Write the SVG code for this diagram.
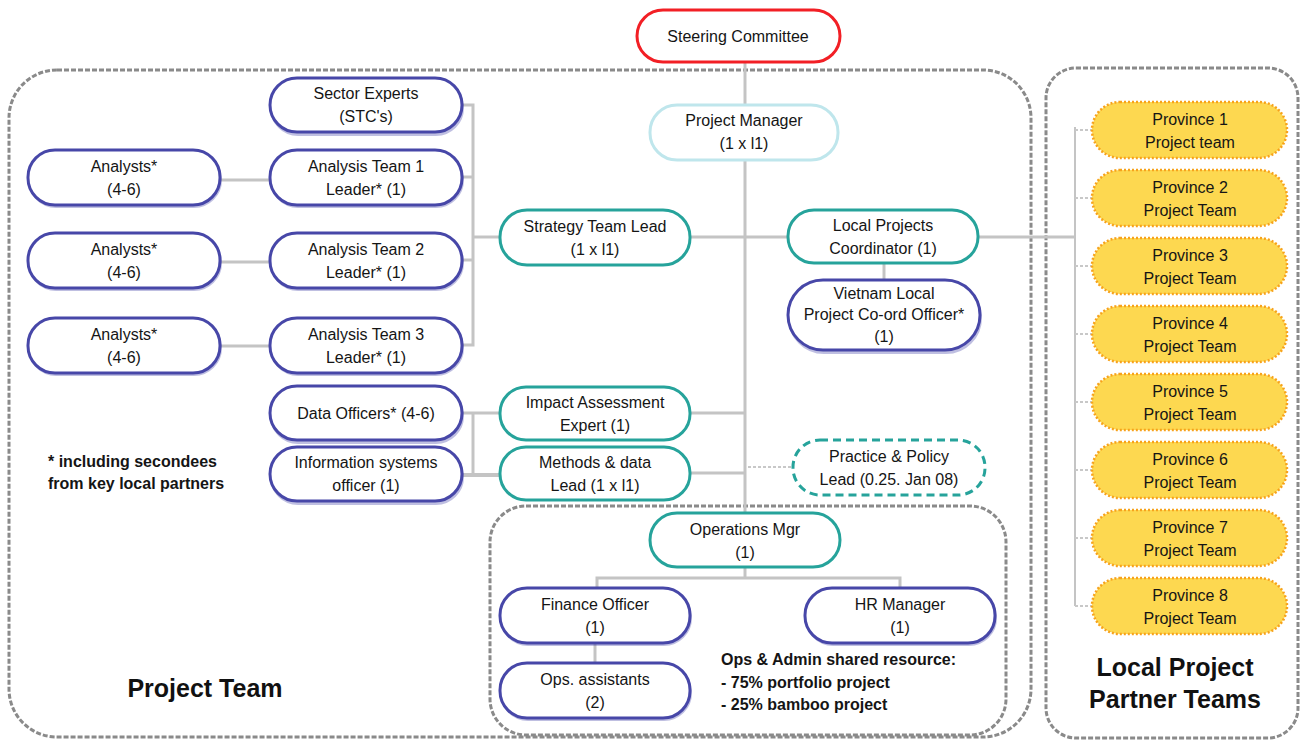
<svg xmlns="http://www.w3.org/2000/svg" width="1301" height="742" viewBox="0 0 1301 742">
  <defs>
    <style>
      .t { font-family: "Liberation Sans", Arial, sans-serif; font-size: 16px; fill: #151515; text-anchor: middle; }
      .tl { font-family: "Liberation Sans", Arial, sans-serif; font-size: 16px; fill: #151515; font-weight: bold; }
      .big { font-family: "Liberation Sans", Arial, sans-serif; font-size: 25px; font-weight: bold; fill: #111; text-anchor: middle; }
      .node { fill: #fff; stroke-width: 3; }
      .shadow { fill: none; stroke-width: 4; opacity: 0.35; }
      .blue { stroke: #4747a8; }
      .teal { stroke: #26a39b; }
      .cyan { stroke: #bfe6ec; }
      .red { stroke: #f21f25; }
      .prov { fill: #fdd850; stroke: #f7a21b; stroke-width: 2.5; stroke-dasharray: 2 2; }
      .frame { fill: none; stroke: #8a8a8a; stroke-width: 3; stroke-dasharray: 5 2; }
      .ln { fill: none; stroke: #c4c4c4; stroke-width: 3; }
      .thin { fill: none; stroke: #c8c8c8; stroke-width: 2; stroke-dasharray: 3 2; }
    </style>
  </defs>

  <!-- team frames -->
  <g id="frames">
    <rect class="frame" x="9" y="70" width="1022" height="667" rx="48"/>
    <rect class="frame" x="1046" y="68" width="252" height="670" rx="30"/>
    <rect class="frame" x="490" y="506" width="516" height="229" rx="36"/>
  </g>

  <!-- reporting lines -->
  <g id="connectors">
    <line class="ln" x1="745" y1="62" x2="745" y2="105"/>
    <line class="ln" x1="745" y1="160" x2="745" y2="513"/>
    <line class="ln" x1="690" y1="237" x2="788" y2="237"/>
    <line class="ln" x1="473" y1="237" x2="500" y2="237"/>
    <polyline class="ln" points="462,105 473,105 473,345 462,345"/>
    <line class="ln" x1="462" y1="177" x2="473" y2="177"/>
    <line class="ln" x1="462" y1="260" x2="473" y2="260"/>
    <line class="ln" x1="220" y1="180" x2="270" y2="180"/>
    <line class="ln" x1="220" y1="262" x2="270" y2="262"/>
    <line class="ln" x1="220" y1="346" x2="270" y2="346"/>
    <line class="ln" x1="884" y1="263" x2="884" y2="280"/>
    <line class="ln" x1="978" y1="237" x2="1075" y2="237"/>
    <line class="ln" x1="1075" y1="127" x2="1075" y2="606" style="stroke-width:2"/>
    <line class="thin" x1="1075" y1="130" x2="1092" y2="130"/>
    <line class="thin" x1="1075" y1="198" x2="1092" y2="198"/>
    <line class="thin" x1="1075" y1="266" x2="1092" y2="266"/>
    <line class="thin" x1="1075" y1="334" x2="1092" y2="334"/>
    <line class="thin" x1="1075" y1="402" x2="1092" y2="402"/>
    <line class="thin" x1="1075" y1="470" x2="1092" y2="470"/>
    <line class="thin" x1="1075" y1="538" x2="1092" y2="538"/>
    <line class="thin" x1="1075" y1="606" x2="1092" y2="606"/>
    <line class="ln" x1="690" y1="413" x2="745" y2="413"/>
    <line class="ln" x1="690" y1="473" x2="745" y2="473"/>
    <line class="thin" x1="748" y1="467" x2="792" y2="467"/>
    <line class="ln" x1="462" y1="413" x2="500" y2="413"/>
    <line class="ln" x1="462" y1="475" x2="500" y2="475" style="stroke-width:4"/>
    <line class="ln" x1="473" y1="413" x2="473" y2="475"/>
    <line class="ln" x1="745" y1="567" x2="745" y2="578"/>
    <polyline class="ln" points="597,588 597,578 900,578 900,588"/>
    <line class="ln" x1="595" y1="643" x2="595" y2="663"/>
  </g>

  <g id="steering-committee">
    <rect class="node red" x="637" y="10" width="203" height="52" rx="26"/>
    <text class="t" x="738" y="42">Steering Committee</text>
  </g>

  <g id="project-manager">
    <rect class="node cyan" x="650" y="105" width="188" height="55" rx="27"/>
    <text class="t" x="744" y="126">Project Manager</text>
    <text class="t" x="744" y="149">(1 x l1)</text>
  </g>

  <g id="sector-experts">
    <rect class="shadow blue" x="272" y="81" width="190" height="53" rx="26"/>
    <rect class="node blue" x="270" y="78" width="192" height="54" rx="27"/>
    <text class="t" x="366" y="99">Sector Experts</text>
    <text class="t" x="366" y="122">(STC's)</text>
  </g>

  <g id="analysis-team-1">
    <rect class="shadow blue" x="272" y="153" width="190" height="53" rx="26"/>
    <rect class="node blue" x="270" y="150" width="192" height="55" rx="27"/>
    <text class="t" x="366" y="172">Analysis Team 1</text>
    <text class="t" x="366" y="195">Leader* (1)</text>
  </g>

  <g id="analysis-team-2">
    <rect class="shadow blue" x="272" y="236" width="190" height="53" rx="26"/>
    <rect class="node blue" x="270" y="233" width="192" height="55" rx="27"/>
    <text class="t" x="366" y="255">Analysis Team 2</text>
    <text class="t" x="366" y="278">Leader*  (1)</text>
  </g>

  <g id="analysis-team-3">
    <rect class="shadow blue" x="272" y="321" width="190" height="53" rx="26"/>
    <rect class="node blue" x="270" y="318" width="192" height="55" rx="27"/>
    <text class="t" x="366" y="340">Analysis Team  3</text>
    <text class="t" x="366" y="363">Leader* (1)</text>
  </g>

  <g id="analysts-1">
    <rect class="shadow blue" x="30" y="153" width="190" height="53" rx="26"/>
    <rect class="node blue" x="28" y="150" width="192" height="55" rx="27"/>
    <text class="t" x="124" y="172">Analysts*</text>
    <text class="t" x="124" y="195">(4-6)</text>
  </g>

  <g id="analysts-2">
    <rect class="shadow blue" x="30" y="236" width="190" height="53" rx="26"/>
    <rect class="node blue" x="28" y="233" width="192" height="55" rx="27"/>
    <text class="t" x="124" y="255">Analysts*</text>
    <text class="t" x="124" y="278">(4-6)</text>
  </g>

  <g id="analysts-3">
    <rect class="shadow blue" x="30" y="321" width="190" height="53" rx="26"/>
    <rect class="node blue" x="28" y="318" width="192" height="55" rx="27"/>
    <text class="t" x="124" y="340">Analysts*</text>
    <text class="t" x="124" y="363">(4-6)</text>
  </g>

  <g id="data-officers">
    <rect class="shadow blue" x="272" y="389" width="190" height="53" rx="26"/>
    <rect class="node blue" x="270" y="386" width="192" height="54" rx="27"/>
    <text class="t" x="366" y="419">Data Officers* (4-6)</text>
  </g>

  <g id="information-systems-officer">
    <rect class="shadow blue" x="272" y="450" width="190" height="53" rx="26"/>
    <rect class="node blue" x="270" y="447" width="192" height="54" rx="27"/>
    <text class="t" x="366" y="468">Information systems</text>
    <text class="t" x="366" y="491">officer (1)</text>
  </g>

  <g id="footnote">
    <text class="tl" x="48" y="467">* including secondees</text>
    <text class="tl" x="48" y="489">from key local partners</text>
  </g>

  <g id="strategy-team-lead">
    <rect class="node teal" x="500" y="210" width="190" height="55" rx="27"/>
    <text class="t" x="595" y="232">Strategy Team Lead</text>
    <text class="t" x="595" y="255">(1 x l1)</text>
  </g>

  <g id="local-projects-coordinator">
    <rect class="node teal" x="788" y="210" width="190" height="53" rx="26"/>
    <text class="t" x="883" y="231">Local Projects</text>
    <text class="t" x="883" y="254">Coordinator (1)</text>
  </g>

  <g id="vietnam-local-officer">
    <rect class="shadow blue" x="790" y="283" width="190" height="69" rx="34"/>
    <rect class="node blue" x="788" y="280" width="192" height="70" rx="35"/>
    <text class="t" x="884" y="299">Vietnam Local</text>
    <text class="t" x="884" y="320">Project Co-ord Officer*</text>
    <text class="t" x="884" y="342">(1)</text>
  </g>

  <g id="impact-assessment-expert">
    <rect class="node teal" x="500" y="387" width="190" height="53" rx="26"/>
    <text class="t" x="595" y="408">Impact Assessment</text>
    <text class="t" x="595" y="431">Expert (1)</text>
  </g>

  <g id="methods-data-lead">
    <rect class="node teal" x="500" y="447" width="190" height="53" rx="26"/>
    <text class="t" x="595" y="468">Methods &amp; data</text>
    <text class="t" x="595" y="491">Lead (1 x l1)</text>
  </g>

  <g id="practice-policy-lead">
    <rect class="node teal" x="793" y="440" width="192" height="55" rx="27" style="stroke-dasharray:8 5"/>
    <text class="t" x="889" y="462">Practice &amp; Policy</text>
    <text class="t" x="889" y="485">Lead (0.25. Jan 08)</text>
  </g>

  <g id="operations-mgr">
    <rect class="node teal" x="650" y="513" width="190" height="54" rx="27"/>
    <text class="t" x="745" y="535">Operations Mgr</text>
    <text class="t" x="745" y="558">(1)</text>
  </g>

  <g id="finance-officer">
    <rect class="shadow blue" x="502" y="591" width="188" height="53" rx="26"/>
    <rect class="node blue" x="500" y="588" width="190" height="55" rx="27"/>
    <text class="t" x="595" y="610">Finance Officer</text>
    <text class="t" x="595" y="633">(1)</text>
  </g>

  <g id="hr-manager">
    <rect class="shadow blue" x="807" y="591" width="188" height="53" rx="26"/>
    <rect class="node blue" x="805" y="588" width="190" height="55" rx="27"/>
    <text class="t" x="900" y="610">HR Manager</text>
    <text class="t" x="900" y="633">(1)</text>
  </g>

  <g id="ops-assistants">
    <rect class="shadow blue" x="502" y="666" width="188" height="53" rx="26"/>
    <rect class="node blue" x="500" y="663" width="190" height="55" rx="27"/>
    <text class="t" x="595" y="685">Ops. assistants</text>
    <text class="t" x="595" y="708">(2)</text>
  </g>

  <g id="ops-admin-note">
    <text class="tl" x="721" y="665">Ops &amp; Admin shared resource:</text>
    <text class="tl" x="721" y="688">-  75% portfolio project</text>
    <text class="tl" x="721" y="710">-  25% bamboo project</text>
  </g>

  <g id="province-1">
    <rect class="prov" x="1092" y="102" width="195" height="56" rx="28"/>
    <text class="t" x="1190" y="125">Province 1</text>
    <text class="t" x="1190" y="148">Project team</text>
  </g>
  <g id="province-2">
    <rect class="prov" x="1092" y="170" width="195" height="56" rx="28"/>
    <text class="t" x="1190" y="193">Province 2</text>
    <text class="t" x="1190" y="216">Project Team</text>
  </g>
  <g id="province-3">
    <rect class="prov" x="1092" y="238" width="195" height="56" rx="28"/>
    <text class="t" x="1190" y="261">Province 3</text>
    <text class="t" x="1190" y="284">Project Team</text>
  </g>
  <g id="province-4">
    <rect class="prov" x="1092" y="306" width="195" height="56" rx="28"/>
    <text class="t" x="1190" y="329">Province 4</text>
    <text class="t" x="1190" y="352">Project Team</text>
  </g>
  <g id="province-5">
    <rect class="prov" x="1092" y="374" width="195" height="56" rx="28"/>
    <text class="t" x="1190" y="397">Province 5</text>
    <text class="t" x="1190" y="420">Project Team</text>
  </g>
  <g id="province-6">
    <rect class="prov" x="1092" y="442" width="195" height="56" rx="28"/>
    <text class="t" x="1190" y="465">Province 6</text>
    <text class="t" x="1190" y="488">Project Team</text>
  </g>
  <g id="province-7">
    <rect class="prov" x="1092" y="510" width="195" height="56" rx="28"/>
    <text class="t" x="1190" y="533">Province 7</text>
    <text class="t" x="1190" y="556">Project Team</text>
  </g>
  <g id="province-8">
    <rect class="prov" x="1092" y="578" width="195" height="56" rx="28"/>
    <text class="t" x="1190" y="601">Province 8</text>
    <text class="t" x="1190" y="624">Project Team</text>
  </g>

  <g id="team-titles">
    <text class="big" x="205" y="697">Project Team</text>
    <text class="big" x="1175" y="676">Local Project</text>
    <text class="big" x="1175" y="708">Partner Teams</text>
  </g>
</svg>
